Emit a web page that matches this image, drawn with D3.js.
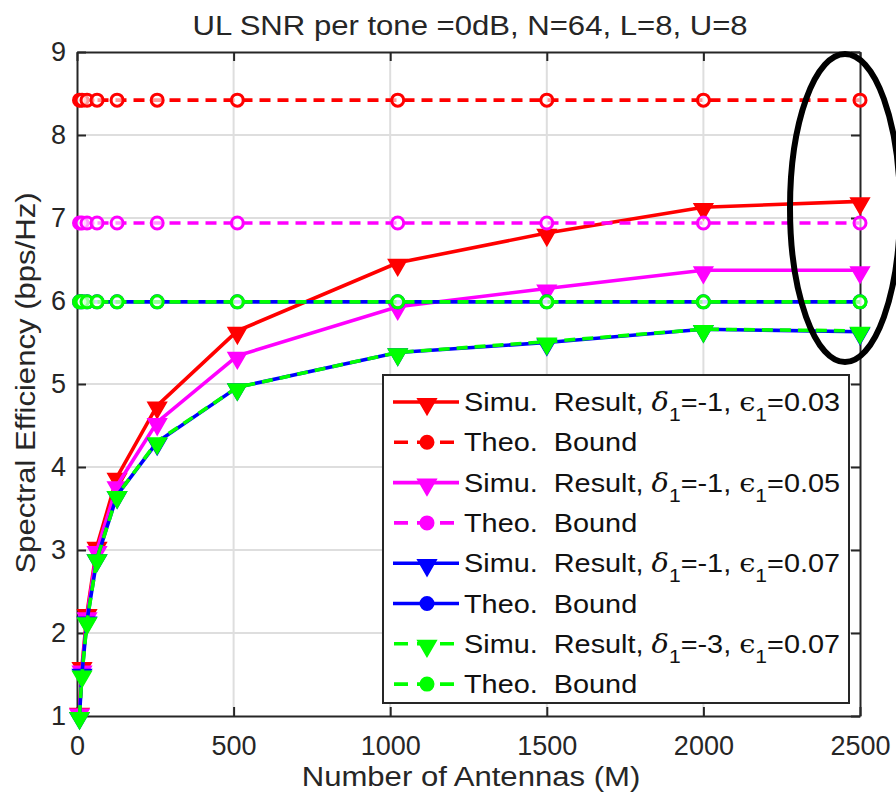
<!DOCTYPE html>
<html>
<head>
<meta charset="utf-8">
<script src="https://cdn.jsdelivr.net/npm/d3@7"></script>
<style>
  html, body { margin: 0; padding: 0; background: #fff; }
  svg { display: block; font-family: "Liberation Sans", Arial, sans-serif; }
  text { white-space: pre; }
</style>
</head>
<body>
<div id="chart"></div>
<script>
// Values
const antennas = [8, 16, 32, 64, 128, 256, 512, 1024, 1500, 2000, 2500];

const simuRed     = [1.05, 1.60, 2.24, 3.05, 3.88, 4.74, 5.64, 6.46, 6.82, 7.13, 7.20];
const simuMagenta = [1.04, 1.56, 2.20, 3.00, 3.78, 4.54, 5.34, 5.93, 6.15, 6.37, 6.37];
const simuBlue    = [1.00, 1.52, 2.15, 2.90, 3.66, 4.30, 4.96, 5.38, 5.50, 5.66, 5.63];
const simuGreen   = [1.00, 1.50, 2.14, 2.90, 3.66, 4.31, 4.96, 5.38, 5.51, 5.66, 5.64];

const boundRed     = [8.42, 8.42, 8.42, 8.42, 8.42, 8.42, 8.42, 8.42, 8.42, 8.42, 8.42];
const boundMagenta = [6.94, 6.94, 6.94, 6.94, 6.94, 6.94, 6.94, 6.94, 6.94, 6.94, 6.94];
const boundBlue    = [5.99, 5.99, 5.99, 5.99, 5.99, 5.99, 5.99, 5.99, 5.99, 5.99, 5.99];
const boundGreen   = [5.99, 5.99, 5.99, 5.99, 5.99, 5.99, 5.99, 5.99, 5.99, 5.99, 5.99];

const xTicks = [0, 500, 1000, 1500, 2000, 2500];
const yTicks = [1, 2, 3, 4, 5, 6, 7, 8, 9];

const titleText = "UL SNR per tone =0dB, N=64, L=8, U=8";
const xLabel = "Number of Antennas (M)";
const yLabel = "Spectral Efficiency (bps/Hz)";

// series in drawing order (green drawn over blue)
const series = [
  {values: simuRed,     color: "#ff0000", dash: null,   marker: "tri", delta: "-1", eps: "0.03"},
  {values: boundRed,    color: "#ff0000", dash: "11,7", marker: "circ"},
  {values: simuMagenta, color: "#ff00ff", dash: null,   marker: "tri", delta: "-1", eps: "0.05"},
  {values: boundMagenta,color: "#ff00ff", dash: "11,7", marker: "circ"},
  {values: simuBlue,    color: "#0000ff", dash: null,   marker: "tri", delta: "-1", eps: "0.07"},
  {values: boundBlue,   color: "#0000ff", dash: null,   marker: "circ"},
  {values: simuGreen,   color: "#00ff00", dash: "11,7", marker: "tri", delta: "-3", eps: "0.07"},
  {values: boundGreen,  color: "#00ff00", dash: "11,7", marker: "circ"}
];

const W = 896, H = 796;
const margin = {top: 52, right: 36, bottom: 80, left: 77};
const width = W - margin.left - margin.right;
const height = H - margin.top - margin.bottom;
const stretch = 1.11; // the source text is a bit wider than Liberation Sans

const svg = d3.select("#chart").append("svg")
  .attr("width", W)
  .attr("height", H);

const g = svg.append("g")
  .attr("transform", `translate(${margin.left},${margin.top})`);

const x = d3.scaleLinear().domain([0, 2500]).range([0, width]);
const y = d3.scaleLinear().domain([1, 9]).range([height, 0]);

// grid
g.append("g").selectAll("line")
  .data(xTicks.slice(1, -1)).join("line")
  .attr("x1", d => x(d)).attr("x2", d => x(d))
  .attr("y1", 0).attr("y2", height)
  .attr("stroke", "#dedede").attr("stroke-width", 2);
g.append("g").selectAll("line")
  .data(yTicks.slice(1, -1)).join("line")
  .attr("x1", 0).attr("x2", width)
  .attr("y1", d => y(d)).attr("y2", d => y(d))
  .attr("stroke", "#dedede").attr("stroke-width", 2);

// axes (ticks inside, MATLAB style box)
const axisColor = "#262626";
const xAxis = g.append("g")
  .attr("transform", `translate(0,${height})`)
  .call(d3.axisBottom(x).tickValues(xTicks).tickFormat(d3.format("d"))
    .tickSizeInner(-9).tickSizeOuter(0).tickPadding(20));
const yAxis = g.append("g")
  .call(d3.axisLeft(y).tickValues(yTicks).tickSizeInner(-9).tickSizeOuter(0).tickPadding(11));
const xTop = g.append("g")
  .call(d3.axisTop(x).tickValues(xTicks).tickSizeInner(-9).tickSizeOuter(0).tickFormat(""));
const yRight = g.append("g")
  .attr("transform", `translate(${width},0)`)
  .call(d3.axisRight(y).tickValues(yTicks).tickSizeInner(-9).tickSizeOuter(0).tickFormat(""));

[xAxis, yAxis, xTop, yRight].forEach(a => {
  a.select(".domain").attr("stroke", axisColor).attr("stroke-width", 2);
  a.selectAll(".tick line").attr("stroke", axisColor).attr("stroke-width", 2);
  a.selectAll(".tick text")
    .attr("fill", "#262626")
    .style("font-size", "27px")
    .style("font-family", "'Liberation Sans', Arial, sans-serif");
});

// lines and markers
const line = d3.line()
  .x((d, i) => x(antennas[i]))
  .y(d => y(d));

const tri = d3.symbol().type(d3.symbolTriangle).size(150);

series.forEach(s => {
  const sg = g.append("g");
  sg.append("path")
    .datum(s.values)
    .attr("fill", "none")
    .attr("stroke", s.color)
    .attr("stroke-width", 3.6)
    .attr("stroke-dasharray", s.dash)
    .attr("d", line);
  if (s.marker === "tri") {
    sg.selectAll("path.m").data(s.values).join("path")
      .attr("class", "m")
      .attr("d", tri)
      .attr("transform", (d, i) => `translate(${x(antennas[i])},${y(d) + 2}) rotate(180)`)
      .attr("fill", s.color)
      .attr("stroke", s.color)
      .attr("stroke-width", 1.5);
  } else {
    sg.selectAll("circle").data(s.values).join("circle")
      .attr("cx", (d, i) => x(antennas[i]))
      .attr("cy", d => y(d))
      .attr("r", 6)
      .attr("fill", "#fff")
      .attr("fill-opacity", 0.6)
      .attr("stroke", s.color)
      .attr("stroke-width", 3);
  }
});

// title and axis labels
function label(tx, ty, rot, txt) {
  svg.append("g")
    .attr("transform", `translate(${tx},${ty}) rotate(${rot}) scale(${stretch},1)`)
    .append("text")
    .attr("text-anchor", "middle")
    .attr("fill", "#262626")
    .style("font-size", "28px")
    .text(txt);
}
label(470, 35, 0, titleText);
label(471, 786, 0, xLabel);
label(35, 383, -90, yLabel);

// legend
const leg = svg.append("g").attr("transform", "translate(383,375)");
leg.append("rect")
  .attr("width", 466).attr("height", 328)
  .attr("fill", "#fff")
  .attr("stroke", axisColor)
  .attr("stroke-width", 2);

const rowH = 40.3;
series.forEach((s, i) => {
  const row = leg.append("g").attr("transform", `translate(0,${27 + i * rowH})`);
  row.append("line")
    .attr("x1", 10).attr("x2", 76)
    .attr("stroke", s.color)
    .attr("stroke-width", 3.6)
    .attr("stroke-dasharray", s.dash ? "14,9" : null)
    .attr("stroke-dashoffset", s.dash ? -1 : null);
  if (s.marker === "tri") {
    row.append("path")
      .attr("d", tri)
      .attr("transform", "translate(44,2) rotate(180)")
      .attr("fill", s.color).attr("stroke", s.color).attr("stroke-width", 1.5);
  } else {
    row.append("circle")
      .attr("cx", 44).attr("r", 6.5)
      .attr("fill", s.color).attr("stroke", s.color).attr("stroke-width", 2);
  }
  const t = row.append("g")
    .attr("transform", `translate(81,9) scale(${stretch},1)`)
    .append("text")
    .attr("fill", "#111")
    .style("font-size", "26px");
  if (s.delta) {
    t.append("tspan").text("Simu.  Result, ");
    t.append("tspan").style("font-style", "italic").style("font-family", "'DejaVu Serif', serif").text("δ");
    t.append("tspan").attr("dy", 10).style("font-size", "19px").text("1");
    t.append("tspan").attr("dy", -10).text("=" + s.delta + ", ");
    t.append("tspan").style("font-family", "'DejaVu Serif', serif").text("ϵ");
    t.append("tspan").attr("dy", 10).style("font-size", "19px").text("1");
    t.append("tspan").attr("dy", -10).text("=" + s.eps);
  } else {
    t.text("Theo.  Bound");
  }
});

// hand-drawn highlight ellipse
svg.append("ellipse")
  .attr("cx", 845).attr("cy", 208)
  .attr("rx", 55).attr("ry", 154)
  .attr("fill", "none")
  .attr("stroke", "#000")
  .attr("stroke-width", 6);
</script>
</body>
</html>
